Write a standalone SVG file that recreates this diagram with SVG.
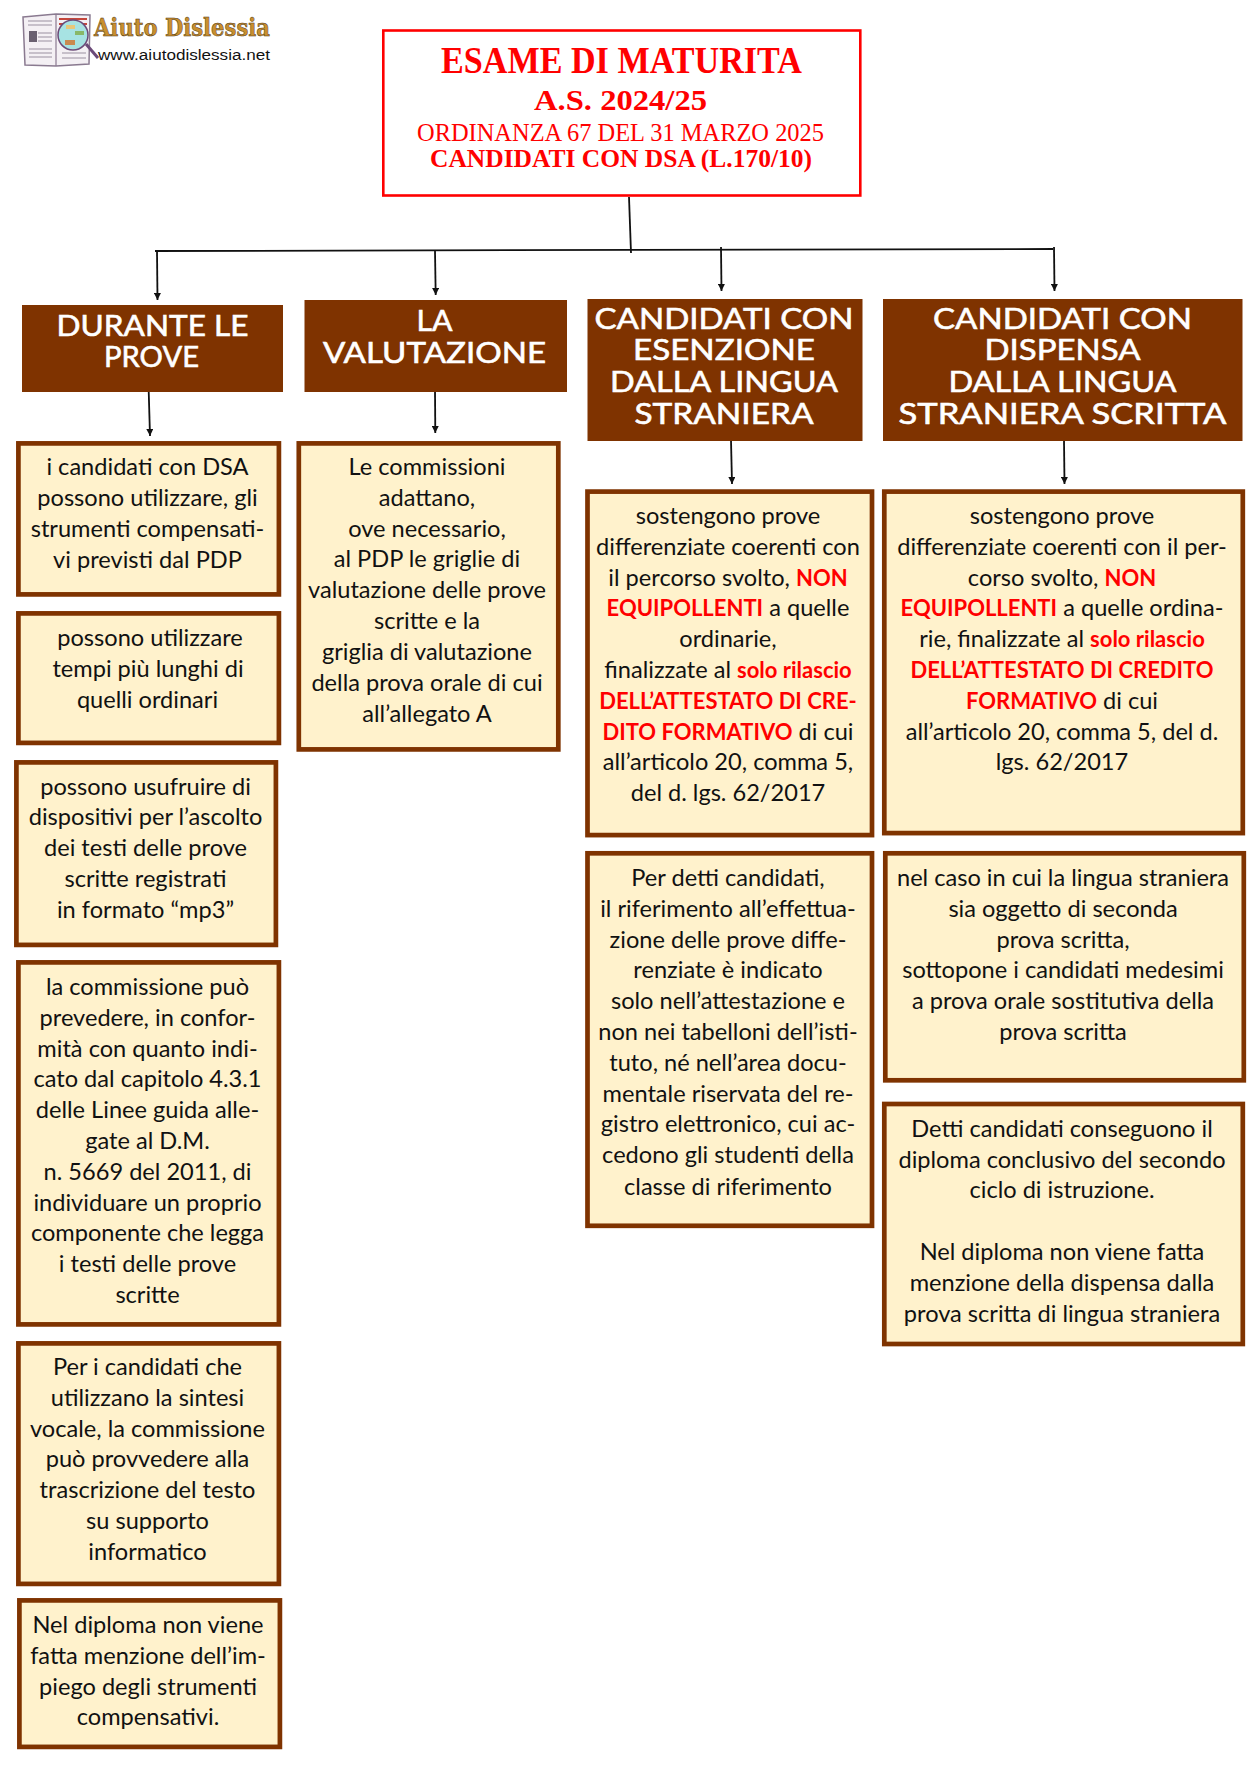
<svg xmlns="http://www.w3.org/2000/svg" width="1255" height="1775" viewBox="0 0 1255 1775">
<style>
.box{fill:#fff2cc;stroke:#7f3300;stroke-width:4.7}
.hd{fill:#7f3300}
.t{font-family:Lato,"Open Sans",sans-serif;font-size:23.6px;fill:#111;text-anchor:middle}
.r{fill:#f00;font-weight:700;font-size:22px}
.h{font-family:Lato,"Noto Sans",sans-serif;font-size:29px;font-weight:400;fill:#fff;stroke:#fff;stroke-width:.6;text-anchor:middle}
.s{font-family:"Liberation Serif",serif;fill:#f00;text-anchor:middle}
.c{fill:none;stroke:#111;stroke-width:1.8}
</style>
<defs><marker id="b" markerUnits="userSpaceOnUse" markerWidth="7" markerHeight="7" refX="6" refY="3" orient="auto" viewBox="0 0 6 6"><path d="M0 0L6 3L0 6Z" fill="#111"/></marker></defs>

<g id="logo">
<path d="M23 17L56 14L90 15L89 64L56 66L25 65Z" fill="#f4f0f4" stroke="#8a7a90" stroke-width="1.500"/>
<path d="M56 15V66" stroke="#8a7a90" stroke-width="1.200"/>
<path d="M28 21H52M28 25H52M38 33H52M38 37H52M38 41H52M29 49H52M29 53H52M29 57H52M62 53H86M62 58H86" stroke="#9a8fa0" stroke-width="1.200"/>
<rect x="29" y="31" width="8" height="11" fill="#6a6070"/>
<path d="M59 19H87M59 24H87" stroke="#c4463c" stroke-width="2"/>
<path d="M86 44L98 58" stroke="#6b4a78" stroke-width="3"/>
<circle cx="73" cy="35" r="15" fill="#a7e3e3" stroke="#6b4a78" stroke-width="1.500"/>
<rect x="66" y="25" width="9" height="4" fill="#e8c87a"/><rect x="75" y="31" width="9" height="4" fill="#88b868"/><rect x="65" y="40" width="10" height="5" fill="#c98a50"/>
<text x="94" y="36" font-family="'DejaVu Serif',serif" font-weight="700" font-size="24" fill="#c98f2e" stroke="#4a3210" stroke-width=".5" textLength="176" lengthAdjust="spacingAndGlyphs">Aiuto Dislessia</text>
<text x="98" y="60" font-family="'Liberation Sans',sans-serif" font-size="15.500" fill="#111" textLength="172" lengthAdjust="spacingAndGlyphs">www.aiutodislessia.net</text>
</g>

<g id="connectors">
<path class="c" d="M155 251L1053 249"/>
<path class="c" d="M629 197L631 253"/>
<path class="c" marker-end="url(#b)" d="M157 251L157.500 300"/>
<path class="c" marker-end="url(#b)" d="M435 251L435.700 295"/>
<path class="c" marker-end="url(#b)" d="M721 247L721.500 291"/>
<path class="c" marker-end="url(#b)" d="M1054 247L1054.500 291"/>
<path class="c" marker-end="url(#b)" d="M148.700 391L150 436"/>
<path class="c" marker-end="url(#b)" d="M435 389L435.300 433"/>
<path class="c" marker-end="url(#b)" d="M731 440L732 484"/>
<path class="c" marker-end="url(#b)" d="M1064 440L1064.500 484"/>
</g>

<g id="title">
<rect x="383.300" y="30.500" width="477" height="165" fill="#fff" stroke="#f00" stroke-width="2.600"/>
<text class="s" x="621.500" y="73" font-size="38" font-weight="700" textLength="361" lengthAdjust="spacingAndGlyphs">ESAME DI MATURITA</text>
<text class="s" x="620.500" y="110" font-size="29" font-weight="700" textLength="173" lengthAdjust="spacingAndGlyphs">A.S. 2024/25</text>
<text class="s" x="620.500" y="141" font-size="25" textLength="407" lengthAdjust="spacingAndGlyphs">ORDINANZA 67 DEL 31 MARZO 2025</text>
<text class="s" x="621" y="167" font-size="25" font-weight="700" textLength="382" lengthAdjust="spacingAndGlyphs">CANDIDATI CON DSA (L.170/10)</text>
</g>

<g id="h1"><rect class="hd" x="22" y="305" width="261" height="87"/>
<text class="h" x="152.500" y="335.500" textLength="192" lengthAdjust="spacingAndGlyphs">DURANTE LE</text>
<text class="h" x="151.500" y="367" textLength="95" lengthAdjust="spacingAndGlyphs">PROVE</text></g>
<g id="h2"><rect class="hd" x="304.500" y="300" width="262.500" height="92"/>
<text class="h" x="434.500" y="331" textLength="36" lengthAdjust="spacingAndGlyphs">LA</text>
<text class="h" x="434.500" y="363" textLength="223" lengthAdjust="spacingAndGlyphs">VALUTAZIONE</text></g>
<g id="h3"><rect class="hd" x="587.500" y="299" width="275" height="142"/>
<text class="h" x="724" y="329" textLength="259" lengthAdjust="spacingAndGlyphs">CANDIDATI CON</text>
<text class="h" x="724" y="360" textLength="182" lengthAdjust="spacingAndGlyphs">ESENZIONE</text>
<text class="h" x="724" y="392" textLength="228" lengthAdjust="spacingAndGlyphs">DALLA LINGUA</text>
<text class="h" x="724" y="424" textLength="179" lengthAdjust="spacingAndGlyphs">STRANIERA</text></g>
<g id="h4"><rect class="hd" x="883" y="299" width="359.500" height="142"/>
<text class="h" x="1062.500" y="329" textLength="259" lengthAdjust="spacingAndGlyphs">CANDIDATI CON</text>
<text class="h" x="1062.500" y="360" textLength="156" lengthAdjust="spacingAndGlyphs">DISPENSA</text>
<text class="h" x="1062.500" y="392" textLength="228" lengthAdjust="spacingAndGlyphs">DALLA LINGUA</text>
<text class="h" x="1062.500" y="424" textLength="328" lengthAdjust="spacingAndGlyphs">STRANIERA SCRITTA</text></g>

<g id="b1a"><rect class="box" x="18.400" y="443.400" width="260.500" height="151"/>
<text class="t" x="147.500" y="475">i candidati con DSA</text>
<text class="t" x="147.500" y="506">possono utilizzare, gli</text>
<text class="t" x="147.500" y="537">strumenti compensati-</text>
<text class="t" x="147.500" y="568">vi previsti dal PDP</text></g>
<g id="b1b"><rect class="box" x="18.400" y="613.400" width="260.500" height="129.500"/>
<text class="t" x="150" y="646">possono utilizzare</text>
<text class="t" x="148" y="677">tempi più lunghi di</text>
<text class="t" x="147.500" y="708">quelli ordinari</text></g>
<g id="b1c"><rect class="box" x="16.400" y="762.400" width="259.500" height="182.500"/>
<text class="t" x="145.500" y="794.500">possono usufruire di</text>
<text class="t" x="145.500" y="825.300">dispositivi per l’ascolto</text>
<text class="t" x="145.500" y="856.100">dei testi delle prove</text>
<text class="t" x="145.500" y="886.900">scritte registrati</text>
<text class="t" x="145.500" y="917.700">in formato “mp3”</text></g>
<g id="b1d"><rect class="box" x="18.400" y="962.400" width="260.500" height="362"/>
<text class="t" x="147.500" y="995">la commissione può</text>
<text class="t" x="147.500" y="1025.800">prevedere, in confor-</text>
<text class="t" x="147.500" y="1056.600">mità con quanto indi-</text>
<text class="t" x="147.500" y="1087.400">cato dal capitolo 4.3.1</text>
<text class="t" x="147.500" y="1118.200">delle Linee guida alle-</text>
<text class="t" x="147.500" y="1149">gate al D.M.</text>
<text class="t" x="147.500" y="1179.800">n. 5669 del 2011, di</text>
<text class="t" x="147.500" y="1210.600">individuare un proprio</text>
<text class="t" x="147.500" y="1241.400">componente che legga</text>
<text class="t" x="147.500" y="1272.200">i testi delle prove</text>
<text class="t" x="147.500" y="1303">scritte</text></g>
<g id="b1e"><rect class="box" x="18.400" y="1343.400" width="260.500" height="240.500"/>
<text class="t" x="147.500" y="1375">Per i candidati che</text>
<text class="t" x="147.500" y="1405.800">utilizzano la sintesi</text>
<text class="t" x="147.500" y="1436.600">vocale, la commissione</text>
<text class="t" x="147.500" y="1467.400">può provvedere alla</text>
<text class="t" x="147.500" y="1498.200">trascrizione del testo</text>
<text class="t" x="147.500" y="1529">su supporto</text>
<text class="t" x="147.500" y="1559.800">informatico</text></g>
<g id="b1f"><rect class="box" x="19.400" y="1600.400" width="260.500" height="146.500"/>
<text class="t" x="148" y="1633">Nel diploma non viene</text>
<text class="t" x="148" y="1663.800">fatta menzione dell’im-</text>
<text class="t" x="148" y="1694.600">piego degli strumenti</text>
<text class="t" x="148" y="1725.400">compensativi.</text></g>

<g id="b2"><rect class="box" x="298.800" y="443.400" width="259.500" height="306"/>
<text class="t" x="427" y="475">Le commissioni</text>
<text class="t" x="427" y="505.800">adattano,</text>
<text class="t" x="427" y="536.600">ove necessario,</text>
<text class="t" x="427" y="567.400">al PDP le griglie di</text>
<text class="t" x="427" y="598.200">valutazione delle prove</text>
<text class="t" x="427" y="629">scritte e la</text>
<text class="t" x="427" y="659.800">griglia di valutazione</text>
<text class="t" x="427" y="690.600">della prova orale di cui</text>
<text class="t" x="427" y="721.800">all’allegato A</text></g>

<g id="b3a"><rect class="box" x="587.500" y="491.600" width="284.500" height="343.500"/>
<text class="t" x="728" y="524">sostengono prove</text>
<text class="t" x="728" y="554.800">differenziate coerenti con</text>
<text class="t" x="728" y="585.600">il percorso svolto, <tspan class="r">NON</tspan></text>
<text class="t" x="728" y="616.400"><tspan class="r">EQUIPOLLENTI</tspan> a quelle</text>
<text class="t" x="728" y="647.200">ordinarie,</text>
<text class="t" x="728" y="678">finalizzate al <tspan class="r">solo rilascio</tspan></text>
<text class="t r" x="728" y="708.800">DELL’ATTESTATO DI CRE-</text>
<text class="t" x="728" y="739.600"><tspan class="r">DITO FORMATIVO</tspan> di cui</text>
<text class="t" x="728" y="770.400">all’articolo 20, comma 5,</text>
<text class="t" x="728" y="801.200">del d. lgs. 62/2017</text></g>
<g id="b3b"><rect class="box" x="587.500" y="853.300" width="284.500" height="372.500"/>
<text class="t" x="728" y="886">Per detti candidati,</text>
<text class="t" x="728" y="916.800">il riferimento all’effettua-</text>
<text class="t" x="728" y="947.600">zione delle prove diffe-</text>
<text class="t" x="728" y="978.400">renziate è indicato</text>
<text class="t" x="728" y="1009.200">solo nell’attestazione e</text>
<text class="t" x="728" y="1040">non nei tabelloni dell’isti-</text>
<text class="t" x="728" y="1070.800">tuto, né nell’area docu-</text>
<text class="t" x="728" y="1101.600">mentale riservata del re-</text>
<text class="t" x="728" y="1132.400">gistro elettronico, cui ac-</text>
<text class="t" x="728" y="1163.200">cedono gli studenti della</text>
<text class="t" x="728" y="1194.500">classe di riferimento</text></g>

<g id="b4a"><rect class="box" x="884.300" y="491.600" width="358.500" height="341.500"/>
<text class="t" x="1062" y="524">sostengono prove</text>
<text class="t" x="1062" y="554.800">differenziate coerenti con il per-</text>
<text class="t" x="1062" y="585.600">corso svolto, <tspan class="r">NON</tspan></text>
<text class="t" x="1062" y="616.400"><tspan class="r">EQUIPOLLENTI</tspan> a quelle ordina-</text>
<text class="t" x="1062" y="647.200">rie, finalizzate al <tspan class="r">solo rilascio</tspan></text>
<text class="t r" x="1062" y="678">DELL’ATTESTATO DI CREDITO</text>
<text class="t" x="1062" y="708.800"><tspan class="r">FORMATIVO</tspan> di cui</text>
<text class="t" x="1062" y="739.600">all’articolo 20, comma 5, del d.</text>
<text class="t" x="1062" y="770.400">lgs. 62/2017</text></g>
<g id="b4b"><rect class="box" x="885.300" y="853.300" width="358.500" height="227"/>
<text class="t" x="1063" y="886">nel caso in cui la lingua straniera</text>
<text class="t" x="1063" y="916.800">sia oggetto di seconda</text>
<text class="t" x="1063" y="947.600">prova scritta,</text>
<text class="t" x="1063" y="978.400">sottopone i candidati medesimi</text>
<text class="t" x="1063" y="1009.200">a prova orale sostitutiva della</text>
<text class="t" x="1063" y="1040">prova scritta</text></g>
<g id="b4c"><rect class="box" x="884.300" y="1104" width="358.500" height="240"/>
<text class="t" x="1062" y="1136.800">Detti candidati conseguono il</text>
<text class="t" x="1062" y="1167.600">diploma conclusivo del secondo</text>
<text class="t" x="1062" y="1198.400">ciclo di istruzione.</text>
<text class="t" x="1062" y="1260">Nel diploma non viene fatta</text>
<text class="t" x="1062" y="1291">menzione della dispensa dalla</text>
<text class="t" x="1062" y="1322">prova scritta di lingua straniera</text></g>
</svg>
